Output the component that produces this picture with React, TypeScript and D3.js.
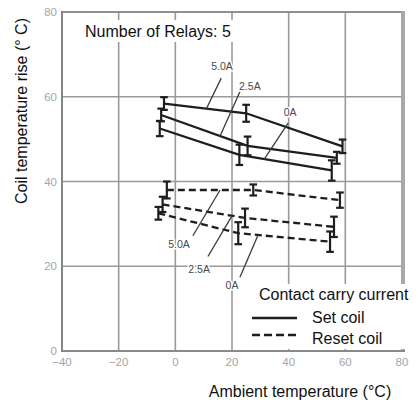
import React from "react";
import * as d3 from "d3";

// ---- data ----
const xTicks = [-40, -20, 0, 20, 40, 60, 80];
const yTicks = [0, 20, 40, 60, 80];

const setX5 = [-4, 25, 59];
const setY5 = [58.4, 56.1, 48.3];
const setE5 = [1.5, 2.0, 1.6];

const setX25 = [-5, 25.5, 57];
const setY25 = [55.7, 48.4, 45.6];
const setE25 = [1.5, 2.2, 1.4];

const setX0 = [-5.5, 22.6, 55.2];
const setY0 = [52.5, 46.3, 42.6];
const setE0 = [1.8, 2.4, 2.4];

const resetX5 = [-3, 27.5, 58.1];
const resetY5 = [38.0, 38.0, 35.6];
const resetE5 = [2.0, 1.3, 1.8];

const resetX25 = [-4.5, 24.6, 56];
const resetY25 = [34.6, 31.4, 29.3];
const resetE25 = [1.8, 2.2, 2.4];

const resetX0 = [-6, 22.2, 54.6];
const resetY0 = [32.5, 27.8, 25.8];
const resetE0 = [1.5, 2.6, 2.4];

type Series = { id: string; xs: number[]; ys: number[]; es: number[]; dashed: boolean };
const series: Series[] = [
  { id: "s5", xs: setX5, ys: setY5, es: setE5, dashed: false },
  { id: "s25", xs: setX25, ys: setY25, es: setE25, dashed: false },
  { id: "s0", xs: setX0, ys: setY0, es: setE0, dashed: false },
  { id: "r5", xs: resetX5, ys: resetY5, es: resetE5, dashed: true },
  { id: "r25", xs: resetX25, ys: resetY25, es: resetE25, dashed: true },
  { id: "r0", xs: resetX0, ys: resetY0, es: resetE0, dashed: true },
];

// annotation labels: text position (data units), leader start (data units), target series & x
const annLabels = ["5.0A", "2.5A", "0A", "5.0A", "2.5A", "0A"];
const annTarget = ["s5", "s25", "s0", "r5", "r25", "r0"];
const annText = [[16.5, 67.3], [26.3, 62.6], [40.5, 56.4], [1.3, 25.2], [8.4, 19.3], [20, 15.6]];
const annFrom = [[16.2, 64.4], [22.8, 61.2], [39.8, 53.8], [6.2, 27.2], [11.5, 22.3], [22.8, 17.4]];
const annToX = [11, 15.8, 31.4, 15.8, 20, 29.2];

const FONT = "'Liberation Sans', Arial, Helvetica, sans-serif";

function interpY(s: Series, x: number) {
  return d3.scaleLinear().domain(s.xs).range(s.ys)(x);
}

export default function App() {
  const W = 418, H = 403;
  const x = d3.scaleLinear().domain([-40, 80]).range([62, 402]);
  const y = d3.scaleLinear().domain([0, 80]).range([351, 12]);
  const line = d3
    .line<[number, number]>()
    .x((d) => x(d[0]))
    .y((d) => y(d[1]));

  const grid = "#9a9a9a";
  const ink = "#1e1e1e";

  return (
    <svg
      width={W}
      height={H}
      style={{ position: "absolute", left: 0, top: 0, background: "#fff" }}
      fontFamily={FONT}
    >
      <rect width={W} height={H} fill="#fff" />
      {/* grid */}
      {xTicks.slice(1, -1).map((t) => (
        <line key={"gx" + t} x1={x(t)} x2={x(t)} y1={y(80)} y2={y(0)} stroke={grid} strokeWidth={1.6} />
      ))}
      {yTicks.slice(1, -1).map((t) => (
        <line key={"gy" + t} x1={x(-40)} x2={x(80)} y1={y(t)} y2={y(t)} stroke={grid} strokeWidth={1.6} />
      ))}
      {/* frame */}
      <line x1={x(-40)} x2={x(80)} y1={y(80)} y2={y(80)} stroke="#8f8f8f" strokeWidth={2} />
      <line x1={x(80) + 1} x2={x(80) + 1} y1={y(80) - 1} y2={y(0) + 1} stroke="#a8a8a8" strokeWidth={4} />
      <line x1={x(-40)} x2={x(80) + 3} y1={y(0)} y2={y(0)} stroke="#8a8a8a" strokeWidth={2} />
      <line x1={x(-40)} x2={x(-40)} y1={y(80) - 1} y2={y(0) + 1} stroke="#858585" strokeWidth={2} />
      {/* ticks labels */}
      {yTicks.map((t) => (
        <text key={"ty" + t} x={x(-40) - 5} y={y(t) + 4} textAnchor="end" fontSize={11.5} fill="#a5a5a5">
          {t}
        </text>
      ))}
      {xTicks.map((t) => (
        <text key={"tx" + t} x={x(t)} y={366} textAnchor="middle" fontSize={11.5} fill="#a5a5a5">
          {t < 0 ? "\u2212" + Math.abs(t) : t}
        </text>
      ))}
      {/* title box */}
      <rect x={80} y={20} width={157} height={22} fill="#fff" />
      <text x={85} y={37} fontSize={16} fill="#111">
        Number of Relays: 5
      </text>
      {/* series */}
      {series.map((s) => {
        const pts = s.xs.map((v, i) => [v, s.ys[i]] as [number, number]);
        return (
          <g key={s.id}>
            <path
              d={line(pts) || ""}
              fill="none"
              stroke={ink}
              strokeWidth={2.3}
              strokeDasharray={s.dashed ? "7 4" : undefined}
            />
            {pts.map((p, i) => {
              const cx = x(p[0]);
              const t = y(p[1] + s.es[i]);
              const b = y(p[1] - s.es[i]);
              return (
                <g key={i} stroke={ink} strokeWidth={2.2}>
                  <line x1={cx} x2={cx} y1={t} y2={b} />
                  <line x1={cx - 3.8} x2={cx + 3.8} y1={t} y2={t} />
                  <line x1={cx - 3.8} x2={cx + 3.8} y1={b} y2={b} />
                </g>
              );
            })}
          </g>
        );
      })}
      {/* annotations */}
      {annLabels.map((lab, i) => {
        const s = series.find((q) => q.id === annTarget[i])!;
        const tx = annToX[i];
        const ty = interpY(s, tx);
        return (
          <g key={"ann" + i}>
            <line
              x1={x(annFrom[i][0])}
              y1={y(annFrom[i][1])}
              x2={x(tx)}
              y2={y(ty)}
              stroke="#3a3a3a"
              strokeWidth={1.3}
            />
            <text
              x={x(annText[i][0])}
              y={y(annText[i][1]) + 4}
              textAnchor="middle"
              fontSize={10.5}
              fill="#4a4a4a"
              stroke="#fff"
              strokeWidth={3}
              paintOrder="stroke"
            >
              {lab}
            </text>
          </g>
        );
      })}
      {/* legend */}
      <rect x={255} y={284} width={163} height={65} fill="#fff" />
      <text x={259} y={300} fontSize={16} fill="#111">
        Contact carry current
      </text>
      <line x1={252} x2={297} y1={318} y2={318} stroke={ink} strokeWidth={2.5} />
      <line x1={252} x2={297} y1={335} y2={335} stroke={ink} strokeWidth={2.5} strokeDasharray="8 4" />
      <text x={312} y={323} fontSize={16} fill="#111">
        Set coil
      </text>
      <text x={312} y={344} fontSize={16} fill="#111">
        Reset coil
      </text>
      {/* axis titles */}
      <text x={300} y={397} textAnchor="middle" fontSize={16} fill="#111">
        Ambient temperature (°C)
      </text>
      <text transform="translate(27,111) rotate(-90)" textAnchor="middle" fontSize={16} fill="#111">
        Coil temperature rise (° C)
      </text>
    </svg>
  );
}
